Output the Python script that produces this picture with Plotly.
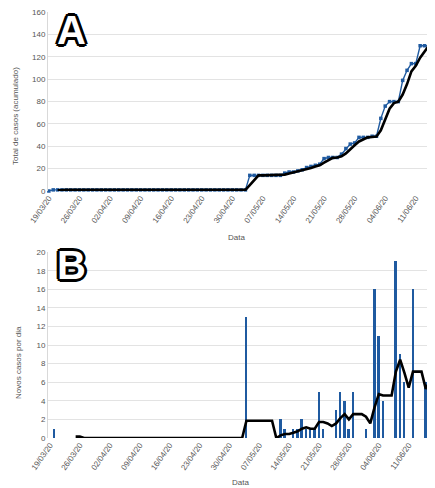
import pandas as pd
import plotly.graph_objects as go

# ---------------- data ----------------
start_date = "2020-03-19"
# new cases per day, from 19/03/20 to 17/06/20
new_cases = [
    0, 1, 0, 0, 0, 0, 0, 0, 0, 0,   # 19/03 - 28/03
    0, 0, 0, 0, 0, 0, 0, 0, 0, 0,   # 29/03 - 07/04
    0, 0, 0, 0, 0, 0, 0, 0, 0, 0,   # 08/04 - 17/04
    0, 0, 0, 0, 0, 0, 0, 0, 0, 0,   # 18/04 - 27/04
    0, 0, 0, 0, 0, 0, 13, 0, 0, 0,  # 28/04 - 07/05
    0, 0, 0, 0, 2, 1, 0, 1, 1, 2,   # 08/05 - 17/05
    1, 1, 1, 5, 1, 0, 0, 3, 5, 4,   # 18/05 - 27/05
    1, 5, 0, 0, 1, 0, 16, 11, 4, 0, # 28/05 - 06/06
    0, 19, 9, 6, 0, 16, 0, 0, 6, 15,# 07/06 - 16/06
    0,                              # 17/06
]
dates = pd.date_range(start_date, periods=len(new_cases), freq="D")
daily = pd.Series(new_cases, index=dates)
cumulative = daily.cumsum()
cum_trend = cumulative.rolling(3).mean()     # moving-average trendline (panel A)
daily_trend = daily.rolling(7).mean()        # moving-average trendline (panel B)

y_ticks_a = list(range(0, 161, 20))
y_ticks_b = list(range(0, 21, 2))

# ---------------- style ----------------
PAGE_OFF = 8                 # default page margin around the figure
W, H = 435 - PAGE_OFF, 488 - PAGE_OFF
BLUE = "#1f5aa0"
GRID = "#e3e3e3"
TXT = "#555555"
FONT = "Liberation Sans"
DAY = 86400000

def px_x(p):
    return (p - PAGE_OFF) / W

def px_y(p):
    return 1 - (p - PAGE_OFF) / H

d0 = pd.Timestamp(start_date)
def day(n):
    return d0 + pd.Timedelta(days=n)

fig = go.Figure()

# Panel A
fig.add_trace(go.Scatter(
    x=dates, y=cumulative, mode="lines+markers",
    line=dict(color=BLUE, width=1.4),
    marker=dict(symbol="square", size=3.5, color=BLUE),
    cliponaxis=False, xaxis="x", yaxis="y", hoverinfo="x+y"))
fig.add_trace(go.Scatter(
    x=dates, y=cum_trend, mode="lines",
    line=dict(color="black", width=2.6),
    xaxis="x", yaxis="y"))

# Panel B
fig.add_trace(go.Bar(
    x=dates, y=daily, marker=dict(color=BLUE, line=dict(width=0)),
    width=0.45 * DAY, xaxis="x2", yaxis="y2"))
fig.add_trace(go.Scatter(
    x=dates, y=daily_trend, mode="lines",
    line=dict(color="black", width=2.6),
    xaxis="x2", yaxis="y2"))

common_x = dict(
    type="date", tickformat="%d/%m/%y", tick0=start_date, dtick=7 * DAY,
    tickangle=-55, showgrid=False, zeroline=False, showline=False,
    tickfont=dict(family=FONT, size=8, color=TXT), automargin=False,
)
common_y = dict(
    showgrid=True, gridcolor=GRID, gridwidth=1, zeroline=False,
    showline=True, linecolor="#d9d9d9", linewidth=1,
    tickfont=dict(family=FONT, size=8, color=TXT), automargin=False,
)

fig.update_layout(
    width=W, height=H,
    margin=dict(l=0, r=0, t=0, b=0),
    paper_bgcolor="white", plot_bgcolor="white",
    showlegend=False, bargap=0,
    xaxis=dict(common_x, domain=[px_x(48), 1], anchor="y",
               range=[day(-0.2), day(88.4)]),
    yaxis=dict(common_y, domain=[px_y(191), px_y(12)], anchor="x",
               range=[0, 160.2], tickvals=y_ticks_a),
    xaxis2=dict(common_x, domain=[px_x(48), 1], anchor="y2",
                range=[day(-0.47), day(90.16)]),
    yaxis2=dict(common_y, domain=[px_y(438), px_y(252)], anchor="x2",
                range=[0, 20.02], tickvals=y_ticks_b),
)

title_font = dict(family=FONT, size=8, color=TXT)
outline = ", ".join(f"{dx}px {dy}px 0 #000" for dx, dy in
                    [(-2, -2), (2, -2), (-2, 2), (2, 2), (0, 3), (0, -3), (3, 0), (-3, 0)])
panel_font = dict(family=FONT, size=40, color="white", weight=700, shadow=outline)

annotations = [
    dict(text="Total de casos (acumulado)", x=px_x(16), y=px_y(116), textangle=-90, font=title_font),
    dict(text="Data", x=px_x(236), y=px_y(237), font=title_font),
    dict(text="Novos casos por dia", x=px_x(18), y=px_y(363), textangle=-90, font=title_font),
    dict(text="Data", x=px_x(240), y=px_y(482), font=title_font),
    dict(text="A", x=px_x(71), y=px_y(30), font=panel_font),
    dict(text="B", x=px_x(71), y=px_y(265), font=panel_font),
]
for a in annotations:
    a.update(xref="paper", yref="paper", showarrow=False, xanchor="center", yanchor="middle")
fig.update_layout(annotations=annotations)

fig.write_html("out.html")
